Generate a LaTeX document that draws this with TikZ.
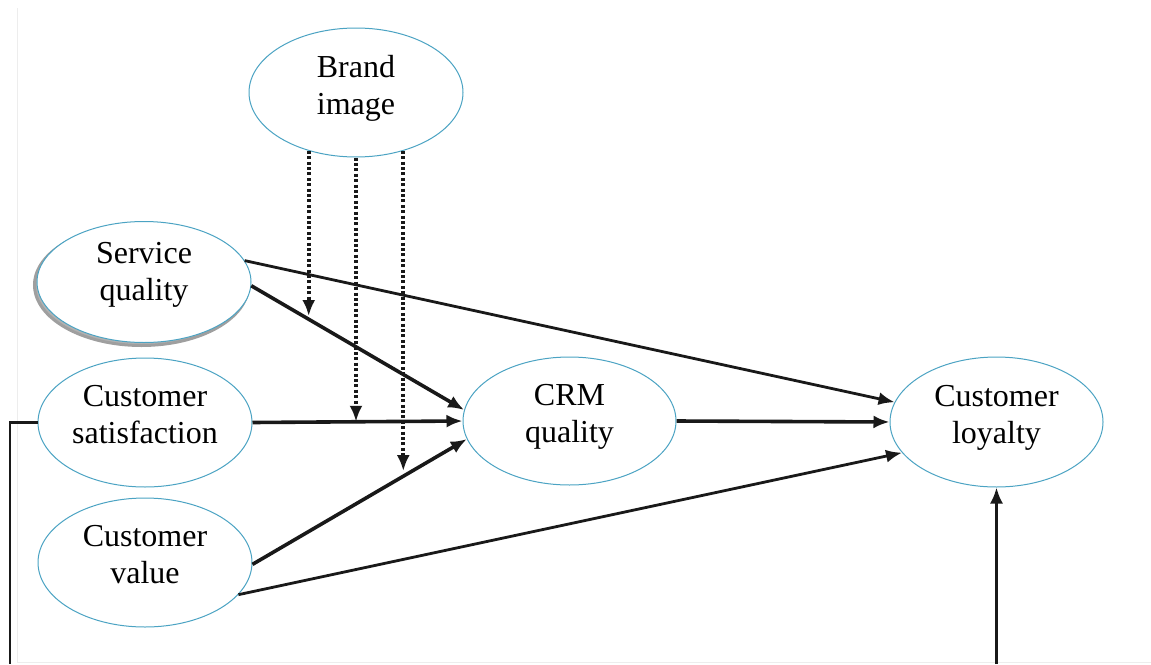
\documentclass[tikz,border=0pt]{standalone}
\usepackage{fontspec}
\setmainfont{Liberation Serif}
\usetikzlibrary{arrows.meta,shapes.geometric}
\definecolor{ecol}{RGB}{75,163,195}
\definecolor{lcol}{RGB}{25,25,25}
\newcommand{\dn}{\rule[-16pt]{0pt}{16pt}}
\begin{document}
\begin{tikzpicture}[x=1pt,y=-1pt,
  var/.style={ellipse, draw=ecol, line width=1pt, fill=white,
    minimum width=214pt, minimum height=129pt, inner sep=0pt,
    align=center, font=\fontsize{32}{37}\selectfont},
  tip/.style={-{Latex[length=16pt,width=13pt]}},
  thick arrow/.style={tip, draw=lcol, line width=3.6pt},
  thin arrow/.style={tip, draw=lcol, line width=2.8pt},
  plain line/.style={draw=lcol, line width=2.8pt},
  dot arrow/.style={-{Latex[length=16pt,width=13pt]}, draw=lcol,
    line width=4pt, dash pattern=on 3pt off 2.4pt},
  shade/.style={ellipse, draw=gray!75, line width=3pt, fill=gray!60,
    minimum width=214pt, minimum height=121pt, inner sep=0pt}]
\useasboundingbox (0,0) rectangle (1151,664);
% faint frame
\draw[black!7, line width=1pt] (17,8) -- (17,662) -- (1151,662);

% shadow of service quality
\node[shade] (sqshadow) at (141.5,285) {};

\node[var] (brand) at (356,92.5) {Brand\\image\dn};
\node[var, minimum height=121pt] (sq) at (144,282) {Service\\quality\rule[-22pt]{0pt}{22pt}};
\node[var] (cs) at (145,422.5) {Customer\\satisfaction\dn};
\node[var] (cv) at (145,562.5) {Customer\\value\dn};
\node[var, minimum width=213pt, minimum height=128pt] (crm) at (569.5,421) {CRM\\quality\dn};
\node[var, minimum width=213pt, minimum height=130pt] (loy) at (996.5,422) {Customer\\loyalty\dn};

\coordinate (b1) at (10,664);
\coordinate (b2) at (996.5,664);

% connectors
\draw[thin arrow] (sq.12) -- (loy.169);
\draw[thick arrow] (sq.-2) -- coordinate[pos=0.284] (m1) (crm.174);
\draw[thick arrow] (cs.east) -- coordinate[pos=0.5] (m2) (crm.west);
\draw[thick arrow] (cv.-1) -- coordinate[pos=0.705] (m3) (crm.190);
\draw[thin arrow] (cv.-19) -- (loy.198);
\draw[thick arrow] (crm.east) -- (loy.west);
\draw[plain line] (cs.west) -| (b1);
\draw[thin arrow] (b2) -- (loy.south);

% moderating (dotted) arrows
\draw[dot arrow, shorten >=5pt] (brand.231) -- (brand.231 |- m1);
\draw[dot arrow] (brand.south) -- (brand.south |- m2);
\draw[dot arrow, shorten >=5pt] (brand.309) -- (brand.309 |- m3);
\end{tikzpicture}
\end{document}
